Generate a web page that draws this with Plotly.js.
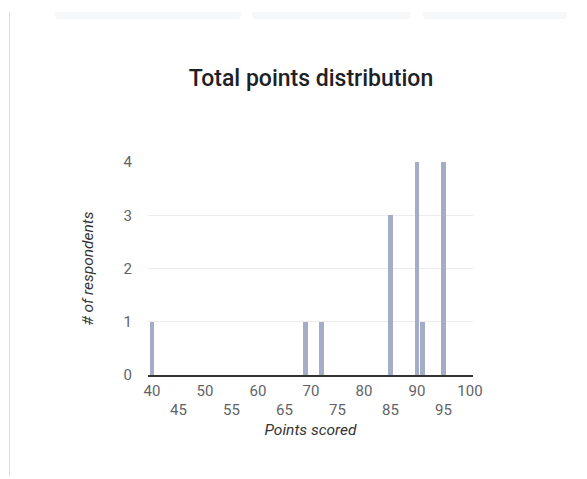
<!DOCTYPE html>
<html>
<head>
<meta charset="utf-8">
<script src="https://cdn.plot.ly/plotly-3.0.1.min.js"></script>
<style>
html,body{margin:0;padding:0;background:#fff;width:587px;height:479px;overflow:hidden;}
#chart{position:absolute;left:0;top:0;width:587px;height:479px;}
.chip{position:absolute;top:12px;height:7px;background:#f6f7f9;border-radius:0 0 4px 4px;}
#lb{position:absolute;left:9px;top:12px;width:1px;height:464px;background:#dcdcdc;}
</style>
</head>
<body>
<div id="lb"></div>
<div class="chip" style="left:55px;width:186px"></div>
<div class="chip" style="left:252px;width:158px"></div>
<div class="chip" style="left:423px;width:144px"></div>
<div id="chart"></div>
<script>
const scores = [40, 69, 72, 85, 90, 91, 95];
const respondents = [1, 1, 1, 3, 4, 1, 4];
const tickRow1 = [40, 50, 60, 70, 80, 90, 100];
const tickRow2 = [45, 55, 65, 75, 85, 95];
const yTicks = [0, 1, 2, 3, 4];

const tickFont = {family: 'Roboto, Arial, sans-serif', size: 15, color: '#5f6368'};
const axisTitleFont = {family: 'Roboto, Arial, sans-serif', size: 15.5, color: '#333333', style: 'italic'};

const trace = {
  type: 'bar',
  x: scores,
  y: respondents,
  width: 0.9,
  marker: {color: '#a3adc7', line: {width: 0}},
  hoverinfo: 'x+y'
};
const dummy = {type:'scatter', x:[40], y:[0], xaxis:'x2', mode:'markers', marker:{opacity:0}, hoverinfo:'skip', showlegend:false};

const layout = {
  width: 587, height: 479,
  paper_bgcolor: 'rgba(0,0,0,0)',
  plot_bgcolor: 'rgba(0,0,0,0)',
  showlegend: false,
  margin: {l: 148, r: 114, t: 162, b: 103.5, pad: 0},
  title: {
    text: 'Total points distribution',
    font: {family: 'Roboto, Arial, sans-serif', size: 23, color: '#202124', weight: 500},
    x: 311/587, xanchor: 'center', xref: 'container',
    y: 1 - 78/479, yanchor: 'middle', yref: 'container'
  },
  xaxis: {
    range: [39.25, 100.57],
    tickvals: tickRow1,
    ticktext: tickRow1.map(String),
    tickfont: tickFont,
    showgrid: false,
    zeroline: false,
    showline: true, linecolor: '#333333', linewidth: 2,
    ticks: '',
    ticklabelstandoff: 1,
    title: {text: 'Points scored', font: axisTitleFont, standoff: 25},
    automargin: false
  },
  xaxis2: {
    overlaying: 'x', matches: 'x', anchor: 'y', side: 'bottom',
    range: [39.25, 100.57],
    tickvals: tickRow2,
    ticktext: tickRow2.map(String),
    tickfont: tickFont,
    showgrid: false, zeroline: false, showline: false, ticks: '',
    ticklabelstandoff: 24
  },
  yaxis: {
    range: [0, 4],
    tickvals: yTicks,
    ticktext: yTicks.map(String),
    tickfont: tickFont,
    showgrid: true, gridcolor: '#ececec', gridwidth: 1,
    zeroline: false,
    showline: false,
    ticks: '',
    ticklabelstandoff: 15,
    title: {text: '# of respondents', font: axisTitleFont, standoff: 26},
    automargin: false
  },
  bargap: 0
};
Plotly.newPlot('chart', [trace, dummy], layout, {displayModeBar: false, staticPlot: true});
</script>
</body>
</html>
